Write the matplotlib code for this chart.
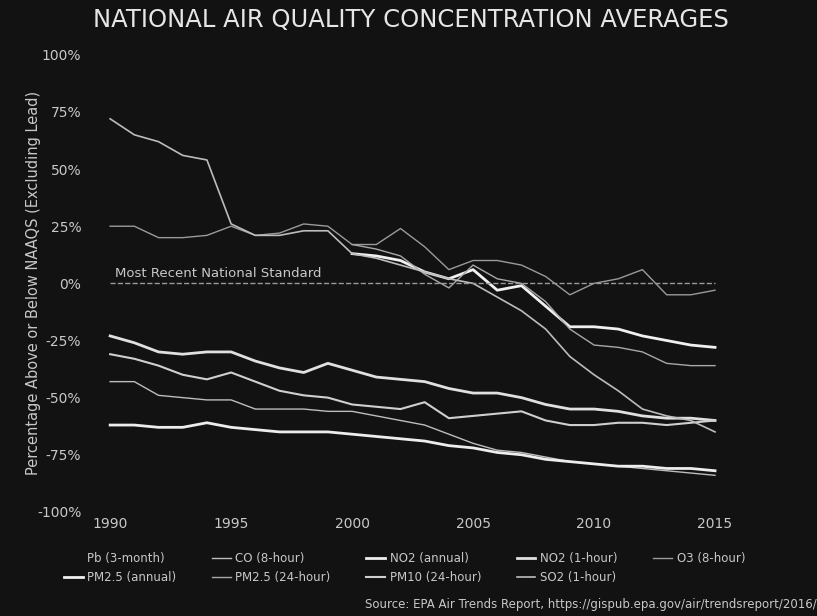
import numpy as np
import matplotlib.pyplot as plt

# Años del reporte
years = list(range(1990, 2016))
years_pm25 = list(range(2000, 2016))

# Porcentaje sobre / bajo el NAAQS de cada contaminante
pb_3month = []  # sin linea visible (excluido)
co_8hour = [-43, -43, -49, -50, -51, -51, -55, -55, -55, -56, -56, -58, -60, -62, -66, -70,
            -73, -74, -76, -78, -79, -80, -81, -82, -83, -84]
no2_annual = [-62, -62, -63, -63, -61, -63, -64, -65, -65, -65, -66, -67, -68, -69, -71, -72,
              -74, -75, -77, -78, -79, -80, -80, -81, -81, -82]
no2_1hour = [-23, -26, -30, -31, -30, -30, -34, -37, -39, -35, -38, -41, -42, -43, -46, -48,
             -48, -50, -53, -55, -55, -56, -58, -59, -59, -60]
o3_8hour = [25, 25, 20, 20, 21, 25, 21, 22, 26, 25, 17, 17, 24, 16, 6, 10,
            10, 8, 3, -5, 0, 2, 6, -5, -5, -3]
pm25_annual = [13, 12, 10, 5, 2, 6, -3, -1, -10, -19, -19, -20, -23, -25, -27, -28]
pm25_24hour = [17, 15, 12, 4, -2, 8, 2, 0, -8, -20, -27, -28, -30, -35, -36, -36]
pm10_24hour = [-31, -33, -36, -40, -42, -39, -43, -47, -49, -50, -53, -54, -55, -52, -59, -58,
               -57, -56, -60, -62, -62, -61, -61, -62, -61, -60]
so2_1hour = [72, 65, 62, 56, 54, 26, 21, 21, 23, 23, 13, 11, 8, 5, 2, 0,
             -6, -12, -20, -32, -40, -47, -55, -58, -60, -65]

y_ticks = [100, 75, 50, 25, 0, -25, -50, -75, -100]
x_ticks = [1990, 1995, 2000, 2005, 2010, 2015]

bg = '#121212'
txt = '#c8c8c8'

fig = plt.figure(figsize=(8.17, 6.16), dpi=100, facecolor=bg)
ax = fig.add_axes([0.12, 0.169, 0.77, 0.742], facecolor=bg)

h_pb, = ax.plot(years[:0], pb_3month, color=bg, linewidth=0, label='Pb (3-month)')
h_co, = ax.plot(years, co_8hour, color='#bdbdbd', linewidth=1.0, label='CO (8-hour)')
h_no2a, = ax.plot(years, no2_annual, color='#ededed', linewidth=2.0, label='NO2 (annual)')
h_no2h, = ax.plot(years, no2_1hour, color='#e0e0e0', linewidth=2.0, label='NO2 (1-hour)')
h_o3, = ax.plot(years, o3_8hour, color='#9a9a9a', linewidth=1.0, label='O3 (8-hour)')
h_pma, = ax.plot(years_pm25, pm25_annual, color='#f0f0f0', linewidth=2.0, label='PM2.5 (annual)')
h_pmh, = ax.plot(years_pm25, pm25_24hour, color='#a8a8a8', linewidth=1.0, label='PM2.5 (24-hour)')
h_pm10, = ax.plot(years, pm10_24hour, color='#cfcfcf', linewidth=1.5, label='PM10 (24-hour)')
h_so2, = ax.plot(years, so2_1hour, color='#bcbcbc', linewidth=1.2, label='SO2 (1-hour)')

# linea del estandar nacional
ax.plot([years[0], years[-1]], [0, 0], color='#9a9a9a', linestyle='--', linewidth=1.0)
ax.text(1990.2, 1.5, 'Most Recent National Standard', color=txt, fontsize=9.5, va='bottom')

ax.set_xlim(1989.5, 2015.5)
ax.set_ylim(-100, 100)
ax.set_yticks(y_ticks)
ax.set_yticklabels([f'{v}%' for v in y_ticks])
ax.set_xticks(x_ticks)
ax.tick_params(colors=txt, labelsize=10, length=0)
ax.tick_params(axis='y', pad=12)
for s in ax.spines.values():
    s.set_visible(False)

ax.set_ylabel('Percentage Above or Below NAAQS (Excluding Lead)', color=txt, fontsize=10.5, labelpad=-3)

fig.text(0.503, 0.967, 'NATIONAL AIR QUALITY CONCENTRATION AVERAGES', color='#e6e6e6',
         fontsize=17.5, ha='center', va='center')

# orden por columnas para que quede por filas en la leyenda
orden = [h_pb, h_pma, h_co, h_pmh, h_no2a, h_pm10, h_no2h, h_so2, h_o3]
fig.legend(handles=orden, loc='center', bbox_to_anchor=(0.495, 0.078), ncol=5, frameon=False,
           fontsize=8.5, labelcolor=txt, handlelength=1.6, columnspacing=3.0, handletextpad=0.4)

fig.text(0.447, 0.018, 'Source: EPA Air Trends Report, https://gispub.epa.gov/air/trendsreport/2016/',
         color=txt, fontsize=8.5, ha='left', va='center')

plt.savefig('out.png', dpi=100, facecolor=bg)
